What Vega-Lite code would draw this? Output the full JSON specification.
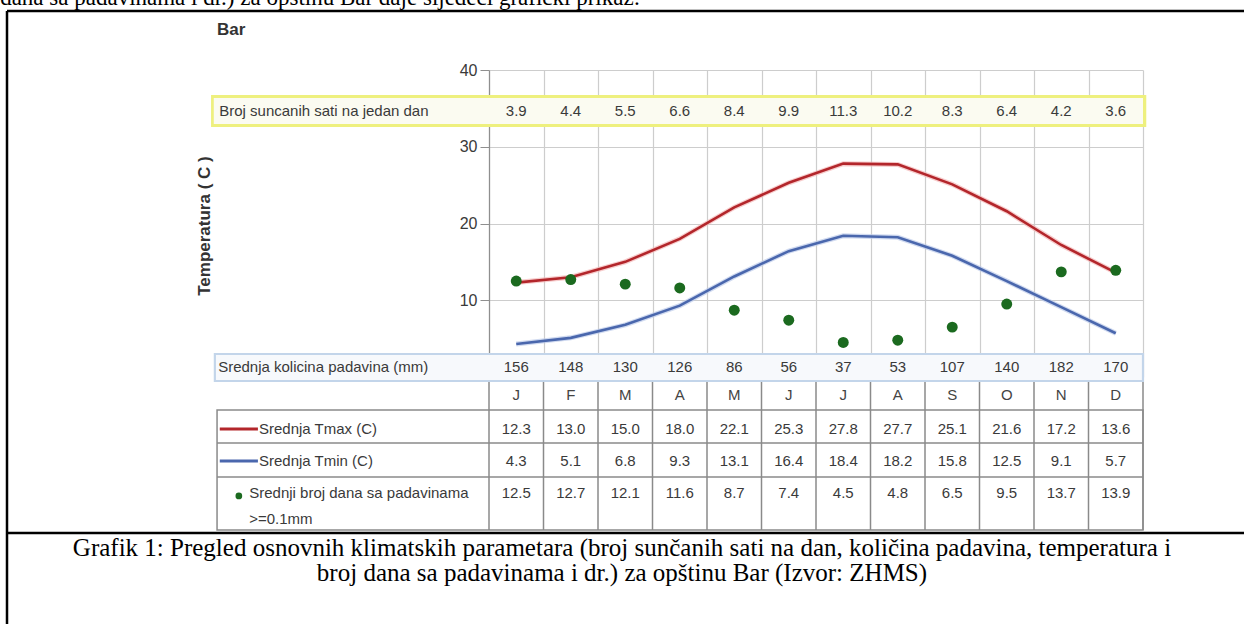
{
  "$schema": "https://vega.github.io/schema/vega-lite/v6.json",
  "width": 654,
  "height": 307,
  "autosize": "none",
  "padding": {"left": 489, "top": 70, "right": 101, "bottom": 247},
  "background": "white",
  "config": {
    "view": {"stroke": null},
    "font": "Liberation Sans",
    "text": {"font": "Liberation Sans", "fontSize": 15, "color": "#3a3a3a"},
    "axisX": {"grid": true, "gridColor": "#cdcdcd", "gridWidth": 1.2, "labels": false, "ticks": false, "domain": false},
    "axisY": {"grid": true, "gridColor": "#cdcdcd", "gridWidth": 1.2, "domain": true, "domainColor": "#8f8f8f", "domainWidth": 1.2, "ticks": true, "tickColor": "#8f8f8f", "tickSize": 9, "labelFontSize": 16, "labelColor": "#3a3a3a", "labelPadding": 3, "labelFont": "Liberation Sans"}
  },
  "data": {"values": [
    {"mon": "J", "m": 1, "sun": 3.9, "precip": 156, "tmax": 12.3, "tmin": 4.3, "days": 12.5},
    {"mon": "F", "m": 2, "sun": 4.4, "precip": 148, "tmax": 13.0, "tmin": 5.1, "days": 12.7},
    {"mon": "M", "m": 3, "sun": 5.5, "precip": 130, "tmax": 15.0, "tmin": 6.8, "days": 12.1},
    {"mon": "A", "m": 4, "sun": 6.6, "precip": 126, "tmax": 18.0, "tmin": 9.3, "days": 11.6},
    {"mon": "M", "m": 5, "sun": 8.4, "precip": 86, "tmax": 22.1, "tmin": 13.1, "days": 8.7},
    {"mon": "J", "m": 6, "sun": 9.9, "precip": 56, "tmax": 25.3, "tmin": 16.4, "days": 7.4},
    {"mon": "J", "m": 7, "sun": 11.3, "precip": 37, "tmax": 27.8, "tmin": 18.4, "days": 4.5},
    {"mon": "A", "m": 8, "sun": 10.2, "precip": 53, "tmax": 27.7, "tmin": 18.2, "days": 4.8},
    {"mon": "S", "m": 9, "sun": 8.3, "precip": 107, "tmax": 25.1, "tmin": 15.8, "days": 6.5},
    {"mon": "O", "m": 10, "sun": 6.4, "precip": 140, "tmax": 21.6, "tmin": 12.5, "days": 9.5},
    {"mon": "N", "m": 11, "sun": 4.2, "precip": 182, "tmax": 17.2, "tmin": 9.1, "days": 13.7},
    {"mon": "D", "m": 12, "sun": 3.6, "precip": 170, "tmax": 13.6, "tmin": 5.7, "days": 13.9}
  ]},
  "layer": [
    {
      "mark": {"type": "line", "stroke": "#f3b8b8", "strokeWidth": 5, "opacity": 0.7},
      "encoding": {
        "x": {"field": "m", "type": "quantitative", "scale": {"domain": [0.5, 12.5], "nice": false, "zero": false}, "axis": {"values": [0.5, 1.5, 2.5, 3.5, 4.5, 5.5, 6.5, 7.5, 8.5, 9.5, 10.5, 11.5, 12.5], "title": null}},
        "y": {"field": "tmax", "type": "quantitative", "scale": {"domain": [0, 40], "nice": false, "zero": false}, "axis": {"values": [10, 20, 30, 40], "title": null}}
      }
    },
    {
      "mark": {"type": "line", "stroke": "#b3262b", "strokeWidth": 2.6},
      "encoding": {
        "x": {"field": "m", "type": "quantitative", "axis": {"values": [0.5, 1.5, 2.5, 3.5, 4.5, 5.5, 6.5, 7.5, 8.5, 9.5, 10.5, 11.5, 12.5], "title": null}},
        "y": {"field": "tmax", "type": "quantitative", "axis": {"values": [10, 20, 30, 40], "title": null}}
      }
    },
    {
      "mark": {"type": "line", "stroke": "#bccbea", "strokeWidth": 5, "opacity": 0.7},
      "encoding": {
        "x": {"field": "m", "type": "quantitative", "axis": {"values": [0.5, 1.5, 2.5, 3.5, 4.5, 5.5, 6.5, 7.5, 8.5, 9.5, 10.5, 11.5, 12.5], "title": null}},
        "y": {"field": "tmin", "type": "quantitative", "axis": {"values": [10, 20, 30, 40], "title": null}}
      }
    },
    {
      "mark": {"type": "line", "stroke": "#4a67ad", "strokeWidth": 2.6},
      "encoding": {
        "x": {"field": "m", "type": "quantitative", "axis": {"values": [0.5, 1.5, 2.5, 3.5, 4.5, 5.5, 6.5, 7.5, 8.5, 9.5, 10.5, 11.5, 12.5], "title": null}},
        "y": {"field": "tmin", "type": "quantitative", "axis": {"values": [10, 20, 30, 40], "title": null}}
      }
    },
    {
      "mark": {"type": "point", "shape": "circle", "filled": true, "size": 120, "color": "#1b6a1f", "opacity": 1},
      "encoding": {
        "x": {"field": "m", "type": "quantitative", "axis": {"values": [0.5, 1.5, 2.5, 3.5, 4.5, 5.5, 6.5, 7.5, 8.5, 9.5, 10.5, 11.5, 12.5], "title": null}},
        "y": {"field": "days", "type": "quantitative", "axis": {"values": [10, 20, 30, 40], "title": null}}
      }
    },
    {
      "data": {"values": [{}]},
      "mark": {"type": "rect", "fill": "#eef07e"},
      "encoding": {
        "x": {"datum": -4.6, "type": "quantitative", "axis": {"values": [0.5, 1.5, 2.5, 3.5, 4.5, 5.5, 6.5, 7.5, 8.5, 9.5, 10.5, 11.5, 12.5], "title": null}}, "x2": {"datum": 12.56},
        "y": {"datum": 36.74, "type": "quantitative", "axis": {"values": [10, 20, 30, 40], "title": null}}, "y2": {"datum": 32.57}
      }
    },
    {
      "data": {"values": [{}]},
      "mark": {"type": "rect", "fill": "#fbfbf1"},
      "encoding": {
        "x": {"datum": -4.55, "type": "quantitative", "axis": {"values": [0.5, 1.5, 2.5, 3.5, 4.5, 5.5, 6.5, 7.5, 8.5, 9.5, 10.5, 11.5, 12.5], "title": null}}, "x2": {"datum": 12.5},
        "y": {"datum": 36.35, "type": "quantitative", "axis": {"values": [10, 20, 30, 40], "title": null}}, "y2": {"datum": 32.96}
      }
    },
    {
      "data": {"values": [{}]},
      "mark": {"type": "text", "text": "Broj suncanih sati na jedan dan", "align": "left", "baseline": "middle"},
      "encoding": {
        "x": {"datum": -4.45, "type": "quantitative", "axis": {"values": [0.5, 1.5, 2.5, 3.5, 4.5, 5.5, 6.5, 7.5, 8.5, 9.5, 10.5, 11.5, 12.5], "title": null}},
        "y": {"datum": 34.66, "type": "quantitative", "axis": {"values": [10, 20, 30, 40], "title": null}}
      }
    },
    {
      "mark": {"type": "text", "align": "center", "baseline": "middle"},
      "encoding": {
        "x": {"field": "m", "type": "quantitative", "axis": {"values": [0.5, 1.5, 2.5, 3.5, 4.5, 5.5, 6.5, 7.5, 8.5, 9.5, 10.5, 11.5, 12.5], "title": null}},
        "y": {"datum": 34.66, "type": "quantitative", "axis": {"values": [10, 20, 30, 40], "title": null}},
        "text": {"field": "sun", "type": "quantitative", "format": ".1f"}
      }
    },
    {
      "data": {"values": [{}]},
      "mark": {"type": "rect", "fill": "#c3d5ea"},
      "encoding": {
        "x": {"datum": -4.55, "type": "quantitative", "axis": {"values": [0.5, 1.5, 2.5, 3.5, 4.5, 5.5, 6.5, 7.5, 8.5, 9.5, 10.5, 11.5, 12.5], "title": null}}, "x2": {"datum": 12.52},
        "y": {"datum": 3.13, "type": "quantitative", "axis": {"values": [10, 20, 30, 40], "title": null}}, "y2": {"datum": -0.65}
      }
    },
    {
      "data": {"values": [{}]},
      "mark": {"type": "rect", "fill": "#f7f9fc"},
      "encoding": {
        "x": {"datum": -4.51, "type": "quantitative", "axis": {"values": [0.5, 1.5, 2.5, 3.5, 4.5, 5.5, 6.5, 7.5, 8.5, 9.5, 10.5, 11.5, 12.5], "title": null}}, "x2": {"datum": 12.48},
        "y": {"datum": 2.87, "type": "quantitative", "axis": {"values": [10, 20, 30, 40], "title": null}}, "y2": {"datum": -0.39}
      }
    },
    {
      "data": {"values": [{}]},
      "mark": {"type": "text", "text": "Srednja kolicina padavina (mm)", "align": "left", "baseline": "middle"},
      "encoding": {
        "x": {"datum": -4.47, "type": "quantitative", "axis": {"values": [0.5, 1.5, 2.5, 3.5, 4.5, 5.5, 6.5, 7.5, 8.5, 9.5, 10.5, 11.5, 12.5], "title": null}},
        "y": {"datum": 1.3, "type": "quantitative", "axis": {"values": [10, 20, 30, 40], "title": null}}
      }
    },
    {
      "mark": {"type": "text", "align": "center", "baseline": "middle"},
      "encoding": {
        "x": {"field": "m", "type": "quantitative", "axis": {"values": [0.5, 1.5, 2.5, 3.5, 4.5, 5.5, 6.5, 7.5, 8.5, 9.5, 10.5, 11.5, 12.5], "title": null}},
        "y": {"datum": 1.3, "type": "quantitative", "axis": {"values": [10, 20, 30, 40], "title": null}},
        "text": {"field": "precip", "type": "quantitative", "format": "d"}
      }
    },
    {
      "mark": {"type": "text", "align": "center", "baseline": "middle", "color": "#444444"},
      "encoding": {
        "x": {"field": "m", "type": "quantitative", "axis": {"values": [0.5, 1.5, 2.5, 3.5, 4.5, 5.5, 6.5, 7.5, 8.5, 9.5, 10.5, 11.5, 12.5], "title": null}},
        "y": {"datum": -2.35, "type": "quantitative", "axis": {"values": [10, 20, 30, 40], "title": null}},
        "text": {"field": "mon", "type": "nominal"}
      }
    },
    {
      "data": {"values": [{}]},
      "mark": {"type": "rect", "fill": "transparent", "stroke": "#8a8a8a", "strokeWidth": 1.5},
      "encoding": {
        "x": {"datum": -4.49, "type": "quantitative", "axis": {"values": [0.5, 1.5, 2.5, 3.5, 4.5, 5.5, 6.5, 7.5, 8.5, 9.5, 10.5, 11.5, 12.5], "title": null}}, "x2": {"datum": 12.5},
        "y": {"datum": -4.3, "type": "quantitative", "axis": {"values": [10, 20, 30, 40], "title": null}}, "y2": {"datum": -19.93}
      }
    },
    {
      "data": {"values": [{}]},
      "mark": {"type": "rule", "stroke": "#8a8a8a", "strokeWidth": 1.5},
      "encoding": {
        "x": {"datum": -4.49, "type": "quantitative", "axis": {"values": [0.5, 1.5, 2.5, 3.5, 4.5, 5.5, 6.5, 7.5, 8.5, 9.5, 10.5, 11.5, 12.5], "title": null}}, "x2": {"datum": 12.5},
        "y": {"datum": -8.6, "type": "quantitative", "axis": {"values": [10, 20, 30, 40], "title": null}}
      }
    },
    {
      "data": {"values": [{}]},
      "mark": {"type": "rule", "stroke": "#8a8a8a", "strokeWidth": 1.5},
      "encoding": {
        "x": {"datum": -4.49, "type": "quantitative", "axis": {"values": [0.5, 1.5, 2.5, 3.5, 4.5, 5.5, 6.5, 7.5, 8.5, 9.5, 10.5, 11.5, 12.5], "title": null}}, "x2": {"datum": 12.5},
        "y": {"datum": -13.03, "type": "quantitative", "axis": {"values": [10, 20, 30, 40], "title": null}}
      }
    },
    {
      "data": {"values": [{}]},
      "mark": {"type": "rule", "stroke": "#8a8a8a", "strokeWidth": 1.5},
      "encoding": {
        "x": {"datum": 0.5, "type": "quantitative", "axis": {"values": [0.5, 1.5, 2.5, 3.5, 4.5, 5.5, 6.5, 7.5, 8.5, 9.5, 10.5, 11.5, 12.5], "title": null}},
        "y": {"datum": -0.65, "type": "quantitative", "axis": {"values": [10, 20, 30, 40], "title": null}}, "y2": {"datum": -19.93}
      }
    },
    {
      "mark": {"type": "rule", "stroke": "#8a8a8a", "strokeWidth": 1.5, "xOffset": 27.25},
      "encoding": {
        "x": {"field": "m", "type": "quantitative", "axis": {"values": [0.5, 1.5, 2.5, 3.5, 4.5, 5.5, 6.5, 7.5, 8.5, 9.5, 10.5, 11.5, 12.5], "title": null}},
        "y": {"datum": -0.65, "type": "quantitative", "axis": {"values": [10, 20, 30, 40], "title": null}}, "y2": {"datum": -19.93}
      }
    },
    {
      "data": {"values": [{}]},
      "mark": {"type": "rule", "stroke": "#b3262b", "strokeWidth": 3},
      "encoding": {
        "x": {"datum": -4.44, "type": "quantitative", "axis": {"values": [0.5, 1.5, 2.5, 3.5, 4.5, 5.5, 6.5, 7.5, 8.5, 9.5, 10.5, 11.5, 12.5], "title": null}}, "x2": {"datum": -3.74},
        "y": {"datum": -6.78, "type": "quantitative", "axis": {"values": [10, 20, 30, 40], "title": null}}
      }
    },
    {
      "data": {"values": [{}]},
      "mark": {"type": "rule", "stroke": "#4a67ad", "strokeWidth": 3},
      "encoding": {
        "x": {"datum": -4.44, "type": "quantitative", "axis": {"values": [0.5, 1.5, 2.5, 3.5, 4.5, 5.5, 6.5, 7.5, 8.5, 9.5, 10.5, 11.5, 12.5], "title": null}}, "x2": {"datum": -3.74},
        "y": {"datum": -10.94, "type": "quantitative", "axis": {"values": [10, 20, 30, 40], "title": null}}
      }
    },
    {
      "data": {"values": [{}]},
      "mark": {"type": "point", "shape": "circle", "filled": true, "size": 45, "color": "#1b6a1f", "opacity": 1},
      "encoding": {
        "x": {"datum": -4.09, "type": "quantitative", "axis": {"values": [0.5, 1.5, 2.5, 3.5, 4.5, 5.5, 6.5, 7.5, 8.5, 9.5, 10.5, 11.5, 12.5], "title": null}},
        "y": {"datum": -15.5, "type": "quantitative", "axis": {"values": [10, 20, 30, 40], "title": null}}
      }
    },
    {
      "data": {"values": [{}]},
      "mark": {"type": "text", "text": "Srednja Tmax (C)", "align": "left", "baseline": "middle"},
      "encoding": {
        "x": {"datum": -3.72, "type": "quantitative", "axis": {"values": [0.5, 1.5, 2.5, 3.5, 4.5, 5.5, 6.5, 7.5, 8.5, 9.5, 10.5, 11.5, 12.5], "title": null}},
        "y": {"datum": -6.78, "type": "quantitative", "axis": {"values": [10, 20, 30, 40], "title": null}}
      }
    },
    {
      "data": {"values": [{}]},
      "mark": {"type": "text", "text": "Srednja Tmin (C)", "align": "left", "baseline": "middle"},
      "encoding": {
        "x": {"datum": -3.72, "type": "quantitative", "axis": {"values": [0.5, 1.5, 2.5, 3.5, 4.5, 5.5, 6.5, 7.5, 8.5, 9.5, 10.5, 11.5, 12.5], "title": null}},
        "y": {"datum": -10.94, "type": "quantitative", "axis": {"values": [10, 20, 30, 40], "title": null}}
      }
    },
    {
      "data": {"values": [{}]},
      "mark": {"type": "text", "text": ["Srednji broj dana sa padavinama", ">=0.1mm"], "align": "left", "baseline": "middle", "lineHeight": 26},
      "encoding": {
        "x": {"datum": -3.9, "type": "quantitative", "axis": {"values": [0.5, 1.5, 2.5, 3.5, 4.5, 5.5, 6.5, 7.5, 8.5, 9.5, 10.5, 11.5, 12.5], "title": null}},
        "y": {"datum": -15.11, "type": "quantitative", "axis": {"values": [10, 20, 30, 40], "title": null}}
      }
    },
    {
      "mark": {"type": "text", "align": "center", "baseline": "middle"},
      "encoding": {
        "x": {"field": "m", "type": "quantitative", "axis": {"values": [0.5, 1.5, 2.5, 3.5, 4.5, 5.5, 6.5, 7.5, 8.5, 9.5, 10.5, 11.5, 12.5], "title": null}},
        "y": {"datum": -6.78, "type": "quantitative", "axis": {"values": [10, 20, 30, 40], "title": null}},
        "text": {"field": "tmax", "type": "quantitative", "format": ".1f"}
      }
    },
    {
      "mark": {"type": "text", "align": "center", "baseline": "middle"},
      "encoding": {
        "x": {"field": "m", "type": "quantitative", "axis": {"values": [0.5, 1.5, 2.5, 3.5, 4.5, 5.5, 6.5, 7.5, 8.5, 9.5, 10.5, 11.5, 12.5], "title": null}},
        "y": {"datum": -10.94, "type": "quantitative", "axis": {"values": [10, 20, 30, 40], "title": null}},
        "text": {"field": "tmin", "type": "quantitative", "format": ".1f"}
      }
    },
    {
      "mark": {"type": "text", "align": "center", "baseline": "middle"},
      "encoding": {
        "x": {"field": "m", "type": "quantitative", "axis": {"values": [0.5, 1.5, 2.5, 3.5, 4.5, 5.5, 6.5, 7.5, 8.5, 9.5, 10.5, 11.5, 12.5], "title": null}},
        "y": {"datum": -15.11, "type": "quantitative", "axis": {"values": [10, 20, 30, 40], "title": null}},
        "text": {"field": "days", "type": "quantitative", "format": ".1f"}
      }
    },
    {
      "data": {"values": [{}]},
      "mark": {"type": "text", "text": "Temperatura ( C )", "angle": 270, "align": "center", "baseline": "middle", "fontWeight": "bold", "fontSize": 17, "color": "#333333"},
      "encoding": {
        "x": {"datum": -4.71, "type": "quantitative", "axis": {"values": [0.5, 1.5, 2.5, 3.5, 4.5, 5.5, 6.5, 7.5, 8.5, 9.5, 10.5, 11.5, 12.5], "title": null}},
        "y": {"datum": 19.67, "type": "quantitative", "axis": {"values": [10, 20, 30, 40], "title": null}}
      }
    },
    {
      "data": {"values": [{}]},
      "mark": {"type": "text", "text": "Bar", "align": "left", "baseline": "middle", "fontWeight": "bold", "fontSize": 17, "color": "#333333"},
      "encoding": {
        "x": {"datum": -4.49, "type": "quantitative", "axis": {"values": [0.5, 1.5, 2.5, 3.5, 4.5, 5.5, 6.5, 7.5, 8.5, 9.5, 10.5, 11.5, 12.5], "title": null}},
        "y": {"datum": 45.21, "type": "quantitative", "axis": {"values": [10, 20, 30, 40], "title": null}}
      }
    },
    {
      "data": {"values": [{}]},
      "mark": {"type": "rule", "stroke": "#000000", "strokeWidth": 2.5},
      "encoding": {
        "x": {"datum": -8.344, "type": "quantitative", "axis": {"values": [0.5, 1.5, 2.5, 3.5, 4.5, 5.5, 6.5, 7.5, 8.5, 9.5, 10.5, 11.5, 12.5], "title": null}}, "x2": {"datum": 14.4},
        "y": {"datum": 47.69, "type": "quantitative", "axis": {"values": [10, 20, 30, 40], "title": null}}
      }
    },
    {
      "data": {"values": [{}]},
      "mark": {"type": "rule", "stroke": "#000000", "strokeWidth": 2.5},
      "encoding": {
        "x": {"datum": -8.344, "type": "quantitative", "axis": {"values": [0.5, 1.5, 2.5, 3.5, 4.5, 5.5, 6.5, 7.5, 8.5, 9.5, 10.5, 11.5, 12.5], "title": null}},
        "y": {"datum": 47.69, "type": "quantitative", "axis": {"values": [10, 20, 30, 40], "title": null}}, "y2": {"datum": -32.5}
      }
    },
    {
      "data": {"values": [{}]},
      "mark": {"type": "rule", "stroke": "#000000", "strokeWidth": 2.5},
      "encoding": {
        "x": {"datum": -8.344, "type": "quantitative", "axis": {"values": [0.5, 1.5, 2.5, 3.5, 4.5, 5.5, 6.5, 7.5, 8.5, 9.5, 10.5, 11.5, 12.5], "title": null}}, "x2": {"datum": 14.4},
        "y": {"datum": -20.33, "type": "quantitative", "axis": {"values": [10, 20, 30, 40], "title": null}}
      }
    },
    {
      "data": {"values": [{}]},
      "mark": {"type": "text", "text": "dana sa padavinama i dr.) za opštinu Bar daje sljedeći grafički prikaz:", "align": "left", "baseline": "alphabetic", "font": "Liberation Serif", "fontSize": 23, "color": "#000000"},
      "encoding": {
        "x": {"datum": -8.47, "type": "quantitative", "axis": {"values": [0.5, 1.5, 2.5, 3.5, 4.5, 5.5, 6.5, 7.5, 8.5, 9.5, 10.5, 11.5, 12.5], "title": null}},
        "y": {"datum": 48.47, "type": "quantitative", "axis": {"values": [10, 20, 30, 40], "title": null}}
      }
    },
    {
      "data": {"values": [{}]},
      "mark": {"type": "text", "text": "Grafik 1: Pregled osnovnih klimatskih parametara (broj sunčanih sati na dan, količina padavina, temperatura i", "align": "center", "baseline": "middle", "font": "Liberation Serif", "fontSize": 25, "color": "#000000"},
      "encoding": {
        "x": {"datum": 2.94, "type": "quantitative", "axis": {"values": [0.5, 1.5, 2.5, 3.5, 4.5, 5.5, 6.5, 7.5, 8.5, 9.5, 10.5, 11.5, 12.5], "title": null}},
        "y": {"datum": -22.28, "type": "quantitative", "axis": {"values": [10, 20, 30, 40], "title": null}}
      }
    },
    {
      "data": {"values": [{}]},
      "mark": {"type": "text", "text": "broj dana sa padavinama i dr.) za opštinu Bar (Izvor: ZHMS)", "align": "center", "baseline": "middle", "font": "Liberation Serif", "fontSize": 25, "color": "#000000"},
      "encoding": {
        "x": {"datum": 2.94, "type": "quantitative", "axis": {"values": [0.5, 1.5, 2.5, 3.5, 4.5, 5.5, 6.5, 7.5, 8.5, 9.5, 10.5, 11.5, 12.5], "title": null}},
        "y": {"datum": -25.6, "type": "quantitative", "axis": {"values": [10, 20, 30, 40], "title": null}}
      }
    }
  ]
}
